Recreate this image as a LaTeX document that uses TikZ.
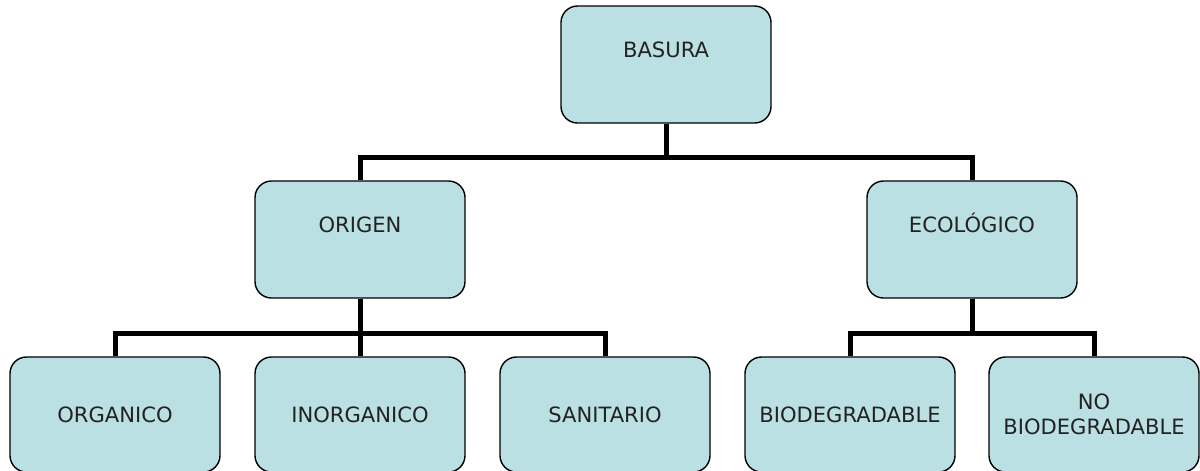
\documentclass[tikz,border=0pt]{standalone}
\usepackage{fontspec}
\setmainfont{DejaVu Sans}
\definecolor{boxfill}{RGB}{187,224,227}
\definecolor{boxtext}{RGB}{34,34,34}
\tikzset{
    box/.style={draw, line width=0.8pt, fill=boxfill, rounded corners=0.33cm,
        minimum width=4.2cm, minimum height=2.34cm, align=center,
        text=boxtext, font=\fontsize{12}{14.5}\selectfont},
    upper/.style={box, text height=0.31cm, text depth=0.58cm},
    lower/.style={box, minimum height=2.3cm},
    link/.style={line width=0.1cm}
}

\begin{document}
\begin{tikzpicture}
    \useasboundingbox (0,0) rectangle (24,-9.4);

    % 1st row
    \node[upper] (basura) at (13.32,-1.29) {BASURA};

    % 2nd row
    \node[upper] (origen) at (7.2,-4.79) {ORIGEN};
    \node[upper] (ecologico) at (19.44,-4.79) {ECOLÓGICO};

    % 3rd row
    \node[lower] (organico) at (2.3,-8.29) {ORGANICO};
    \node[lower] (inorganico) at (7.2,-8.29) {INORGANICO};
    \node[lower] (sanitario) at (12.1,-8.29) {SANITARIO};
    \node[lower] (biodeg) at (17.0,-8.29) {BIODEGRADABLE};
    \node[lower] (nobiodeg) at (21.88,-8.29) {NO\\BIODEGRADABLE};

    % links
    \draw[link] (basura.south) -- ++(0,-0.68) -| (origen.north);
    \draw[link] (basura.south) -- ++(0,-0.68) -| (ecologico.north);
    \draw[link] (origen.south) -- ++(0,-0.7) -| (organico.north);
    \draw[link] (origen.south) -- (inorganico.north);
    \draw[link] (origen.south) -- ++(0,-0.7) -| (sanitario.north);
    \draw[link] (ecologico.south) -- ++(0,-0.7) -| (biodeg.north);
    \draw[link] (ecologico.south) -- ++(0,-0.7) -| (nobiodeg.north);
\end{tikzpicture}
\end{document}
